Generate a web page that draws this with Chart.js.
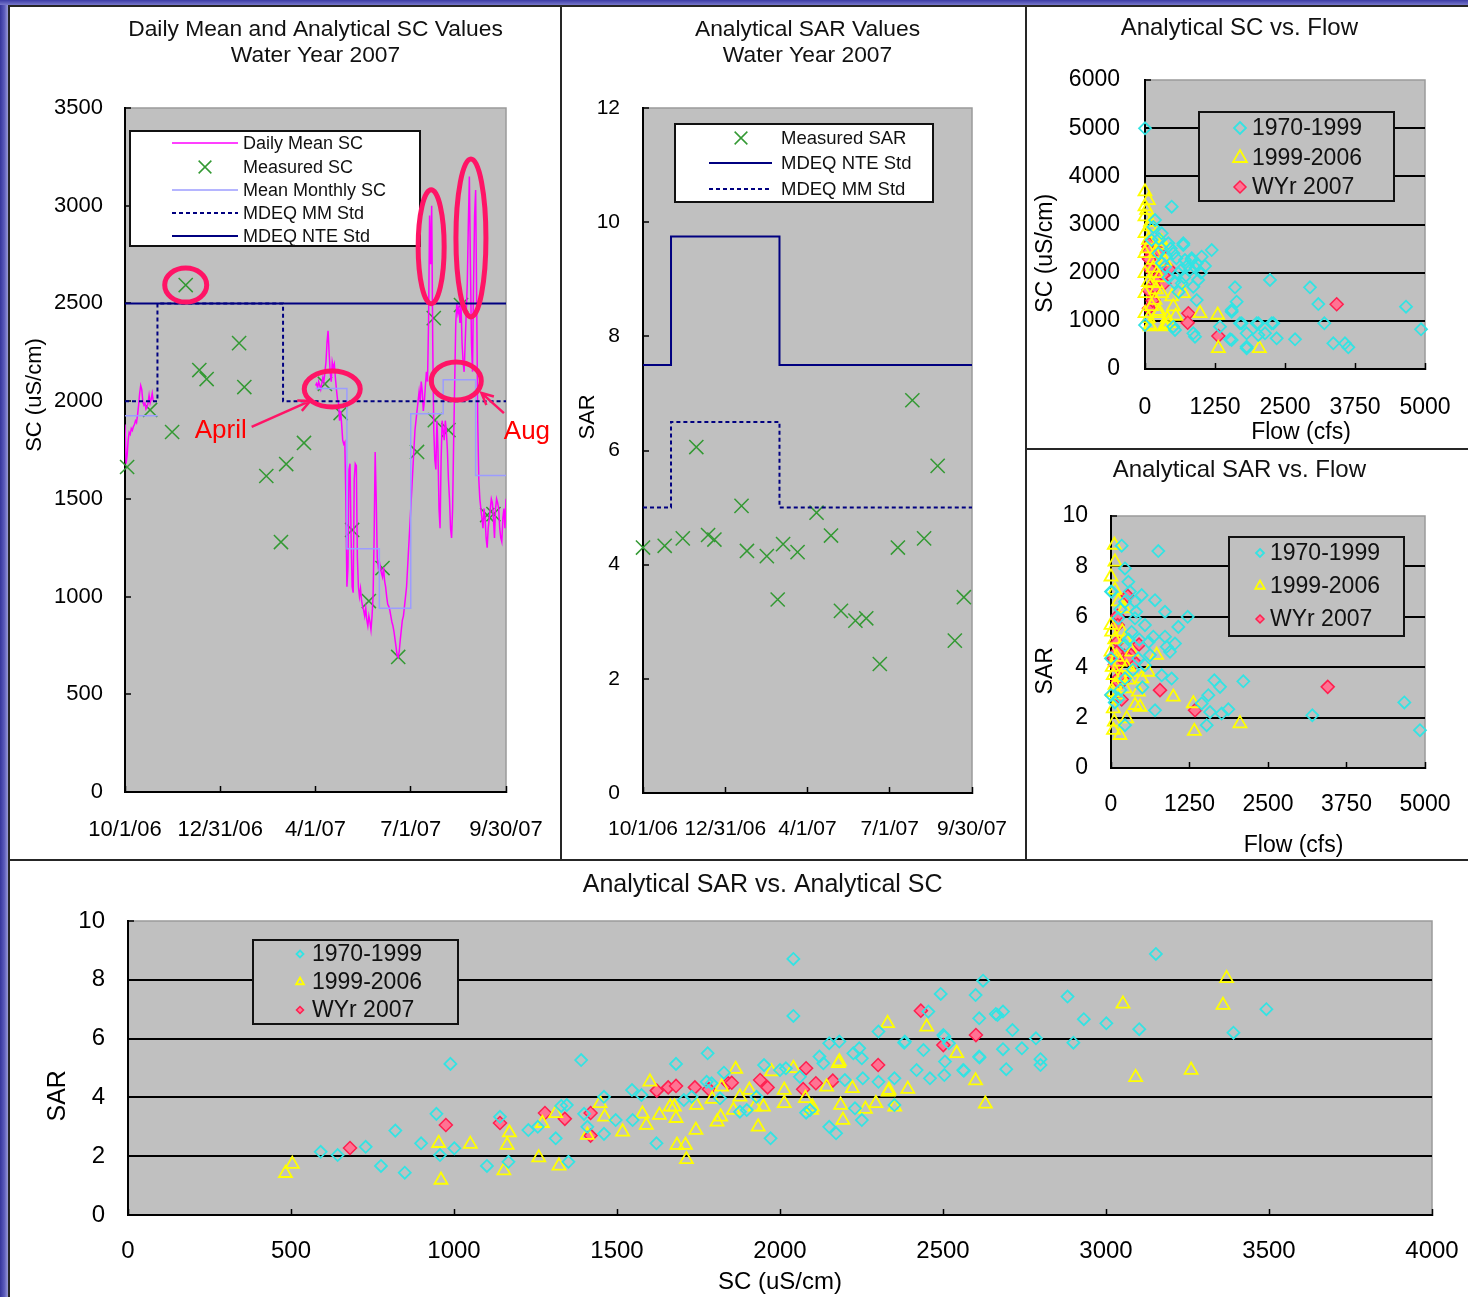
<!DOCTYPE html>
<html>
<head>
<meta charset="utf-8">
<title>Water Year 2007 SC and SAR</title>
<script src="https://cdn.jsdelivr.net/npm/chart.js@4.4.0/dist/chart.umd.min.js"></script>
<style>
  html, body { margin: 0; padding: 0; background: #fff; }
  #page { position: relative; width: 1468px; height: 1297px; overflow: hidden; background: #fff; }
  .strip-left { position: absolute; left: 0; top: 0; width: 8px; height: 1297px;
    background: linear-gradient(90deg, #34349a 0%, #5c5cbc 55%, #9a9ad8 100%); }
  .strip-top { position: absolute; left: 0; top: 0; width: 1468px; height: 5px;
    background: linear-gradient(180deg, #3c3ca6, #7878cc); }
  .rule { position: absolute; background: #262626; }
  canvas { position: absolute; }
</style>
</head>
<body>
<div id="page">
  <div class="strip-left"></div>
  <div class="strip-top"></div>
  <div class="rule" style="left:8px;top:5px;width:1460px;height:2px"></div>
  <div class="rule" style="left:8px;top:5px;width:2px;height:1292px"></div>
  <div class="rule" style="left:560px;top:5px;width:2px;height:856px"></div>
  <div class="rule" style="left:1025px;top:5px;width:2px;height:856px"></div>
  <div class="rule" style="left:1025px;top:448px;width:443px;height:2px"></div>
  <div class="rule" style="left:8px;top:859px;width:1460px;height:2px"></div>
  <canvas id="scTime" width="550" height="852" style="left:10px;top:7px"></canvas>
  <canvas id="sarTime" width="463" height="852" style="left:562px;top:7px"></canvas>
  <canvas id="scFlow" width="441" height="441" style="left:1027px;top:7px"></canvas>
  <canvas id="sarFlow" width="441" height="409" style="left:1027px;top:450px"></canvas>
  <canvas id="sarSc" width="1458" height="436" style="left:10px;top:861px"></canvas>
</div>
<script>
// ---------- Water year 2007 time axis (days after 10/1/06) ----------
const wyTickDays = [0, 91, 182, 273, 364];
const wyTickLabels = ['10/1/06', '12/31/06', '4/1/07', '7/1/07', '9/30/07'];

// Daily mean SC: October record, then April through September record
const OCT_START_DAY = 0;
const dailyMeanOct = [1880, 1680, 1720, 1800, 1840, 1830, 1860, 1850, 1870, 1880, 1900, 1890, 1930, 1980,
  2040, 2080, 2060, 2000, 1980, 1990, 1960, 1970, 1990, 2030, 1990, 2010, 2040, 2000];
const APR_START_DAY = 182;
const dailyMeanAprSep = [
  // April
  2080, 2090, 2070, 2100, 2080, 2060, 2090, 2120, 2100, 2150, 2200, 2300, 2360, 2250, 2150,
  2100, 2200, 2170, 2190, 2120, 2060, 2010, 1990, 1900, 1950, 1880, 1800, 1780, 1790, 1500,
  // May
  1050, 1150, 1650, 1680, 1300, 1050, 1020, 1600, 1680, 1670, 1200, 1050, 1000, 1040, 980,
  950, 930, 900, 940, 880, 850, 900, 870, 830, 900, 1000, 1300, 1740, 1500, 1200, 1150,
  // June
  1180, 1150, 1120, 1100, 1150, 1080, 1050, 1000, 960, 950, 930, 900, 870, 850, 820,
  780, 740, 700, 690, 720, 780, 830, 880, 900, 950, 1000, 1050, 1150, 1250, 1350,
  // July
  1450, 1550, 1650, 1750, 1850, 1900, 1950, 2000, 2050, 2000, 2100, 2050, 1950, 2000, 2080,
  2150, 2100, 2400, 2950, 2700, 3000, 2300, 1850, 1700, 1650, 1900, 1750, 1450, 1350, 1700, 1900,
  // August
  1850, 1800, 1900, 1850, 1750, 1600, 1500, 1350, 1300, 1450, 1800, 2100, 2400, 2500, 2450,
  2480, 2400, 2500, 2300, 2200, 2150, 2300, 2450, 2600, 2900, 3150, 2700, 2300, 2150, 2600, 2950,
  // September
  3080, 2500, 1900, 1600, 1500, 1450, 1400, 1350, 1450, 1400, 1300, 1250, 1350, 1400, 1450,
  1500, 1480, 1400, 1300, 1450, 1500, 1480, 1450, 1350, 1300, 1280, 1400, 1450, 1350, 1500];

// Mean monthly SC (Oct, Apr, May, Jun, Jul, Aug, Sep)
const monthStartDays = [0, 182, 212, 243, 273, 304, 335];
const monthEndDays = [31, 212, 243, 273, 304, 335, 364];
const monthlyMeanSC = [1925, 2065, 1245, 940, 1935, 2110, 1620];

// MDEQ standards (break days: 10/1, 11/1, 3/1, 9/30)
const stdBreakDays = [0, 31, 151, 364];
const nteStdSC = [2500, 2500, 2500, 2500];
const mmStdSC = [2000, 2500, 2000, 2000];
const nteStdSAR = [7.5, 9.75, 7.5, 7.5];
const mmStdSAR = [5.0, 6.5, 5.0, 5.0];

// Grab samples
const scSampleDays = [2, 24, 45, 58, 71, 78, 109, 114, 135, 149, 154, 171, 191, 206, 217, 233, 246, 261, 279, 295, 296, 309, 321, 346, 352];
const measuredSC = [1663, 1955, 1842, 2594, 2159, 2113, 2297, 2072, 1617, 1279, 1678, 1786, 2088, 1939, 1341, 977, 1146, 691, 1740, 2425, 1903, 1852, 2492, 1417, 1422];
const sarSampleDays = [0, 24, 44, 59, 72, 79, 109, 115, 137, 149, 155, 171, 192, 208, 219, 235, 247, 262, 282, 298, 311, 326, 345, 355];
const measuredSAR = [4.30, 4.33, 4.46, 6.06, 4.52, 4.44, 5.03, 4.24, 4.15, 3.39, 4.36, 4.22, 4.91, 4.51, 3.19, 3.02, 3.06, 2.26, 4.30, 6.88, 4.46, 5.73, 2.67, 3.43];

// Historical periods
const periodNames = ['1970-1999', '1999-2006', 'WYr 2007'];

// SC (uS/cm) vs flow (cfs)
const flowSC1970 = [[0,4997],[477,3370],[684,2609],[1191,2470],[834,2298],[1071,2138],[2232,1848],[1607,1696],[1637,1398],[2946,1696],
  [1548,1190],[1696,948],[1994,948],[2292,948],[1339,878],[1815,741],[2143,741],[2351,637],[2679,617],[1518,617],[1815,463],[863,741],
  [506,878],[0,913],[684,2574],[1012,2332],[3095,1349],[4661,1294],[4929,824],[3202,948],[3363,533],[3571,533],[3631,450],[2262,948],
  [2024,948],[1726,948],[2024,706],[1548,1225],[893,671],[536,810],[834,2263],[863,1709],[923,1432],[655,1779],[506,2402],[298,2817],
  [179,3093],[417,2609],[357,2124],[595,1987],[714,2263],[804,2055],[923,2194],[119,2678],[238,2402],[1815,429],[1548,602],[150,2950],
  [250,2700],[300,2200],[420,1900],[520,1800],[600,1600],[700,1900],[760,2150],[380,2350],[460,2500],[560,2300],[640,2050],[950,1850],
  [1000,2000],[900,2100]];
const flowSC1999 = [[0,3681],[0,3370],[0,3162],[0,2817],[0,2402],[0,1987],[0,1571],[0,1156],[89,913],[357,913],[298,2574],[208,1987],
  [298,1571],[477,1501],[684,1571],[506,1294],[982,1156],[1298,1121],[1310,429],[2042,429],[238,1156],[417,948],[179,1432],[89,2955],
  [60,2678],[149,2263],[119,1779],[298,2643],[357,2228],[89,878],[357,878],[60,3500],[30,3300],[100,3050],[40,2500],[150,2100],[60,1800],
  [200,1650],[120,1300],[250,1200],[60,1050],[400,1050],[550,1100],[180,2400],[250,1900]];
const flowSC2007 = [[60,2539],[71,2298],[89,2090],[256,2402],[417,2090],[179,1848],[345,1779],[60,1640],[149,1432],[71,1260],[774,1156],
  [762,961],[1310,685],[3423,1343],[77,2595],[77,2456],[256,2435],[77,2277],[89,2070],[434,2070],[208,1883],[327,1952],[179,1696],[137,1418]];

// SAR vs flow (cfs)
const flowSAR1970 = [[170,8.82],[753,8.61],[223,7.92],[276,7.39],[488,6.86],[701,6.66],[860,6.20],[382,6.60],[541,5.67],[674,5.21],
  [860,5.21],[1072,5.60],[1221,6.00],[887,4.81],[939,4.61],[807,3.68],[966,3.55],[701,2.29],[1645,3.48],[1736,3.22],[1550,2.89],
  [1444,2.56],[1577,2.22],[1762,2.16],[1868,2.33],[1524,1.70],[2107,3.44],[3206,2.09],[4671,2.60],[4920,1.50],[223,6.60],[117,5.94],
  [329,5.40],[223,4.87],[435,4.35],[541,4.08],[223,3.55],[117,2.76],[223,1.70],[0,4.35],[11,6.99],[382,5.94],[1019,4.94],[621,4.48],
  [300,7.0],[400,6.2],[150,6.3],[280,5.1],[450,5.1],[600,5.0],[350,3.9],[500,3.2],[150,3.1],[60,2.6],[0,7.0],[0,2.9]];
const flowSAR1999 = [[53,8.85],[64,8.18],[0,7.59],[64,7.06],[212,6.33],[0,5.67],[223,5.14],[0,4.61],[143,4.21],[329,3.81],[488,3.55],
  [37,3.68],[64,3.29],[382,2.49],[462,2.42],[37,2.36],[53,1.83],[143,1.30],[250,1.96],[727,4.48],[992,2.82],[1311,2.56],[1327,1.46],
  [2054,1.76],[594,3.81],[223,3.15],[329,4.61],[11,5.40],[117,6.60],[435,3.02],[20,4.0],[90,4.4],[160,3.6],[250,4.0],[30,3.0],
  [100,2.9],[60,5.1],[180,5.4],[280,3.5],[40,1.5]];
const flowSAR2007 = [[265,6.83],[106,6.04],[106,5.67],[106,5.01],[446,4.90],[106,4.54],[212,4.45],[318,4.48],[117,4.21],[382,4.19],
  [37,4.35],[106,3.44],[186,3.44],[170,2.72],[780,3.09],[1338,2.29],[3451,3.22],[150,4.40],[250,4.30],[60,4.10],[90,4.60],[200,3.50],
  [130,3.60],[280,4.35]];

// SAR vs SC (uS/cm)
const scSAR1970 = [[591,2.15],[643,2.04],[729,2.32],[776,1.67],[820,2.87],[849,1.44],[899,2.44],[946,3.44],[957,2.04],[989,5.14],
  [1001,2.27],[1101,1.67],[1141,3.34],[1167,1.81],[1228,2.89],[1257,3.00],[1312,2.61],[1329,3.71],[1346,3.74],[1351,1.81],[1390,5.27],
  [1399,3.44],[1409,3.00],[1460,4.02],[1460,2.76],[1496,3.23],[1546,4.25],[1548,3.23],[1575,4.08],[1621,2.44],[1681,5.14],[1705,3.91],
  [1729,4.02],[1775,4.53],[1778,5.50],[1790,4.48],[1816,3.97],[1828,4.84],[1877,3.51],[1898,3.57],[1928,4.02],[1951,5.10],[1971,2.61],
  [2000,4.93],[2018,4.99],[2041,6.77],[2041,8.71],[2061,4.70],[2080,3.48],[2092,3.57],[2121,5.39],[2133,5.16],[2151,5.84],[2151,3.00],
  [2172,2.78],[2182,5.90],[2199,4.59],[2225,5.50],[2230,3.63],[2243,5.67],[2251,5.33],[2251,3.23],[2254,4.65],[2302,6.24],[2302,4.53],
  [2351,4.65],[2351,3.74],[2381,5.86],[2383,5.90],[2419,4.93],[2440,5.61],[2455,6.92],[2460,4.65],[2493,7.52],[2501,6.12],[2504,6.07],
  [2504,4.76],[2506,5.22],[2518,5.84],[2562,4.93],[2564,4.91],[2600,7.48],[2611,5.39],[2611,6.69],[2612,5.36],[2623,7.97],[2662,6.84],
  [2667,6.80],[2684,6.92],[2684,5.64],[2694,4.96],[2713,6.29],[2742,5.67],[2785,6.01],[2799,5.30],[2799,5.10],[2882,7.43],[2900,5.86],
  [2932,6.66],[3001,6.52],[3102,6.32],[3153,8.88],[3391,6.20],[3492,7.00]];
const scSAR1999 = [[483,1.42],[504,1.73],[953,2.44],[960,1.19],[1050,2.41],[1153,1.51],[1163,2.38],[1170,2.80],[1260,1.95],[1271,3.12],
  [1312,3.46],[1322,1.67],[1409,2.72],[1448,3.80],[1462,3.34],[1517,2.83],[1578,3.44],[1590,3.06],[1601,4.53],[1630,3.40],[1663,3.68],
  [1676,3.68],[1681,3.29],[1684,2.38],[1710,2.38],[1713,1.89],[1742,2.89],[1744,3.74],[1792,3.94],[1807,3.17],[1818,3.34],[1821,4.36],
  [1857,3.57],[1864,4.96],[1877,4.02],[1906,4.25],[1923,3.68],[1933,3.00],[1949,3.68],[1974,4.88],[2013,4.25],[2013,3.80],[2041,4.99],
  [2078,3.97],[2097,3.57],[2099,3.68],[2143,4.36],[2179,5.16],[2182,5.22],[2186,3.74],[2193,3.23],[2222,4.31],[2262,3.60],[2294,3.80],
  [2330,6.52],[2332,4.19],[2334,4.25],[2352,3.68],[2392,4.28],[2450,6.40],[2542,5.50],[2600,4.57],[2630,3.78],[3052,7.18],[3091,4.68],
  [3261,4.93],[3359,7.14],[3370,8.05]];
const scSAR2007 = [[681,2.28],[975,3.06],[1141,3.13],[1279,3.47],[1340,3.27],[1419,3.47],[1419,2.70],[1622,4.23],[1657,4.34],[1681,4.39],
  [1739,4.34],[1782,4.28],[1841,4.48],[1852,4.50],[1939,4.59],[1962,4.34],[2071,4.28],[2080,4.99],[2110,4.48],[2162,4.57],[2301,5.10],
  [2432,6.95],[2501,5.78],[2601,6.12]];

// ---------- helpers ----------
const FONT = "'Liberation Sans', Arial, Helvetica, sans-serif";
Chart.defaults.font.family = FONT;
Chart.defaults.color = '#000';

const toXY = pts => pts.map(p => ({ x: p[0], y: p[1] }));
const byDay = (days, vals) => days.map((d, i) => ({ x: d, y: vals[i] }));
const fromStart = (start, vals) => vals.map((v, i) => ({ x: start + i, y: v }));

function monthlySteps() {
  const pts = [];
  monthStartDays.forEach((s, i) => {
    if (i > 0 && s !== monthEndDays[i - 1]) pts.push({ x: (monthEndDays[i - 1] + s) / 2, y: null });
    pts.push({ x: s, y: monthlyMeanSC[i] }, { x: monthEndDays[i], y: monthlyMeanSC[i] });
  });
  return pts;
}

function drawMarker(ctx, style, x, y, r) {
  ctx.beginPath();
  if (style === 'rectRot') {
    ctx.moveTo(x, y - r); ctx.lineTo(x + r, y); ctx.lineTo(x, y + r); ctx.lineTo(x - r, y); ctx.closePath();
  } else if (style === 'triangle') {
    for (let k = 0; k < 3; k++) {
      const a = k * 2 * Math.PI / 3;
      const px = x + Math.sin(a) * r, py = y - Math.cos(a) * r;
      k ? ctx.lineTo(px, py) : ctx.moveTo(px, py);
    }
    ctx.closePath();
  } else if (style === 'crossRot') {
    const d = r * Math.SQRT1_2;
    ctx.moveTo(x - d, y - d); ctx.lineTo(x + d, y + d);
    ctx.moveTo(x + d, y - d); ctx.lineTo(x - d, y + d);
  }
}

// gray plotting area with a light frame on the open sides
const plotFrame = {
  id: 'plotFrame',
  beforeDraw(chart) {
    const { ctx, chartArea: a } = chart;
    ctx.save();
    ctx.fillStyle = '#c0c0c0';
    ctx.fillRect(a.left, a.top, a.right - a.left, a.bottom - a.top);
    ctx.strokeStyle = '#9a9a9a';
    ctx.lineWidth = 1.5;
    ctx.beginPath();
    ctx.moveTo(a.left, a.top); ctx.lineTo(a.right, a.top); ctx.lineTo(a.right, a.bottom);
    ctx.stroke();
    ctx.restore();
  }
};

// boxed legend placed inside the plotting area
const boxLegend = {
  id: 'boxLegend',
  afterDatasetsDraw(chart, args, o) {
    if (!o || !o.box) return;
    const ctx = chart.ctx, b = o.box;
    ctx.save();
    ctx.fillStyle = o.fill;
    ctx.fillRect(b[0], b[1], b[2], b[3]);
    ctx.strokeStyle = '#111';
    ctx.lineWidth = 2;
    ctx.strokeRect(b[0], b[1], b[2], b[3]);
    ctx.font = o.fontSize + 'px ' + FONT;
    ctx.textBaseline = 'middle';
    ctx.textAlign = 'left';
    o.order.forEach((di, i) => {
      const ds = chart.data.datasets[di];
      const y = o.rows[i];
      ctx.save();
      if (ds.showLine === false) {
        const r = o.markerRadius ? o.markerRadius[i] : ds.pointRadius;
        drawMarker(ctx, ds.pointStyle, o.markerX, y, r);
        if (ds.pointBackgroundColor && ds.pointBackgroundColor !== 'transparent') {
          ctx.fillStyle = ds.pointBackgroundColor; ctx.fill();
        }
        ctx.strokeStyle = ds.pointBorderColor;
        ctx.lineWidth = ds.pointBorderWidth;
        ctx.stroke();
      } else {
        ctx.strokeStyle = ds.borderColor;
        ctx.lineWidth = ds.borderWidth;
        ctx.setLineDash(ds.borderDash || []);
        ctx.beginPath();
        ctx.moveTo(o.sample[0], y); ctx.lineTo(o.sample[1], y);
        ctx.stroke();
      }
      ctx.restore();
      ctx.fillStyle = '#111';
      ctx.fillText(ds.label, o.textX, y + 1);
    });
    ctx.restore();
  }
};

// circled features, labels and arrows given in data units
const callouts = {
  id: 'callouts',
  afterDatasetsDraw(chart, args, o) {
    if (!o || !o.rings) return;
    const { ctx, scales: { x, y } } = chart;
    const px = v => x.getPixelForValue(v), py = v => y.getPixelForValue(v);
    ctx.save();
    ctx.strokeStyle = o.ringColor;
    ctx.lineWidth = 5;
    o.rings.forEach(r => {
      ctx.beginPath();
      ctx.ellipse(px(r.x), py(r.y), r.rx, r.ry, 0, 0, 2 * Math.PI);
      ctx.stroke();
    });
    ctx.lineWidth = 2.5;
    o.arrows.forEach(a => {
      const x1 = px(a.from[0]), y1 = py(a.from[1]), x2 = px(a.to[0]), y2 = py(a.to[1]);
      const ang = Math.atan2(y2 - y1, x2 - x1);
      ctx.beginPath();
      ctx.moveTo(x1, y1); ctx.lineTo(x2, y2);
      ctx.moveTo(x2 - 13 * Math.cos(ang - 0.45), y2 - 13 * Math.sin(ang - 0.45));
      ctx.lineTo(x2, y2);
      ctx.lineTo(x2 - 13 * Math.cos(ang + 0.45), y2 - 13 * Math.sin(ang + 0.45));
      ctx.stroke();
    });
    ctx.fillStyle = o.textColor;
    ctx.font = '26px ' + FONT;
    ctx.textAlign = 'center';
    ctx.textBaseline = 'middle';
    o.labels.forEach(t => ctx.fillText(t.text, px(t.x), py(t.y)));
    ctx.restore();
  }
};

Chart.register(plotFrame, boxLegend, callouts);

const plainNumber = v => String(v);

function yAxis(o) {
  return {
    type: 'linear', position: 'left', min: o.min, max: o.max,
    ticks: { stepSize: o.step, padding: o.pad, font: { size: o.fs }, color: '#000', callback: plainNumber },
    grid: {
      drawOnChartArea: !!o.grid, lineWidth: 2, tickLength: -6, tickWidth: 1.5, tickColor: '#000',
      color: c => (c.tick && (c.tick.value === o.min || c.tick.value === o.max)) ? 'rgba(0,0,0,0)' : '#000'
    },
    border: { display: true, color: '#000', width: 2 },
    title: { display: true, text: o.title, font: { size: o.tfs }, color: '#000', padding: { top: o.tpad, bottom: 0 } },
    afterFit: s => { s.width = o.width; s.paddingTop = 0; s.paddingBottom = 0; }
  };
}

function xAxis(o) {
  const ax = {
    type: 'linear', position: 'bottom', min: o.min, max: o.max,
    ticks: { autoSkip: false, maxRotation: 0, minRotation: 0, padding: o.pad, font: { size: o.fs }, color: '#000', callback: plainNumber },
    grid: { drawOnChartArea: false, tickLength: -6, tickWidth: 1.5, tickColor: '#000' },
    border: { display: true, color: '#000', width: 2 },
    title: o.title ? { display: true, text: o.title, font: { size: o.tfs }, color: '#000', padding: { top: 0, bottom: o.tpad } } : { display: false },
    afterFit: s => { s.height = o.height; s.paddingLeft = 0; s.paddingRight = 0; }
  };
  if (o.tickValues) {
    ax.afterBuildTicks = s => { s.ticks = o.tickValues.map(v => ({ value: v })); };
    ax.ticks.callback = (v, i) => o.tickLabels[i];
  } else {
    ax.ticks.stepSize = o.step;
  }
  return ax;
}

function chartTitle(text, size, lh, pt, pb, full) {
  return { display: true, text, fullSize: full, color: '#111',
    font: { size, lineHeight: lh, weight: 'normal' }, padding: { top: pt, bottom: pb } };
}

const base = { responsive: false, animation: false, devicePixelRatio: 1, events: [] };

const NAVY = '#000080', MAGENTA = '#ff00ff', LAVENDER = '#9c9cff', GREEN = '#339933';
const CYAN = '#33e3e3', YELLOW = '#ffff00', PINK = '#ff7393', RED = '#ff1f4f';

// ---------- Daily Mean and Analytical SC Values ----------
new Chart(document.getElementById('scTime'), {
  type: 'line',
  data: {
    datasets: [
      { label: 'MDEQ NTE Std', data: byDay(stdBreakDays, nteStdSC), stepped: true, borderColor: NAVY, borderWidth: 2, pointRadius: 0 },
      { label: 'MDEQ MM Std', data: byDay(stdBreakDays, mmStdSC), stepped: true, borderColor: NAVY, borderWidth: 2, borderDash: [4, 3], pointRadius: 0 },
      { label: 'Mean Monthly SC', data: monthlySteps(), borderColor: LAVENDER, borderWidth: 1.5, pointRadius: 0, spanGaps: false },
      { label: 'Daily Mean SC', data: fromStart(OCT_START_DAY, dailyMeanOct).concat([{ x: 100, y: null }], fromStart(APR_START_DAY, dailyMeanAprSep)),
        borderColor: MAGENTA, borderWidth: 1.5, pointRadius: 0, spanGaps: false },
      { label: 'Measured SC', data: byDay(scSampleDays, measuredSC), showLine: false, pointStyle: 'crossRot', pointRadius: 10,
        pointBorderColor: GREEN, pointBackgroundColor: 'transparent', pointBorderWidth: 1.5, borderColor: GREEN, clip: false }
    ]
  },
  options: Object.assign({}, base, {
    layout: { padding: { left: 0, right: 54, top: 0, bottom: 0 } },
    scales: {
      x: xAxis({ min: 0, max: 364, tickValues: wyTickDays, tickLabels: wyTickLabels, pad: 31, fs: 22, height: 67 }),
      y: yAxis({ min: 0, max: 3500, step: 500, pad: 28, fs: 22, width: 115, title: '                  SC (uS/cm)', tfs: 22, tpad: 12 })
    },
    plugins: {
      legend: { display: false }, tooltip: { enabled: false },
      title: chartTitle(['Daily Mean and Analytical SC Values', 'Water Year 2007'], 22.8, 26 / 22.8, 10, 39, false),
      boxLegend: { box: [120, 124, 290, 115], fill: '#fff', fontSize: 18, order: [3, 4, 2, 1, 0],
        rows: [136, 160, 183, 206, 229], sample: [162, 228], markerX: 195, textX: 233, markerRadius: [0, 9, 0, 0, 0] },
      callouts: {
        ringColor: '#ff1466', textColor: '#ff0000',
        rings: [ { x: 58, y: 2594, rx: 21, ry: 17 }, { x: 292.5, y: 2790, rx: 13, ry: 57 }, { x: 330.5, y: 2835, rx: 15, ry: 79 },
                 { x: 198, y: 2062, rx: 28, ry: 18 }, { x: 316.5, y: 2103, rx: 25, ry: 19 } ],
        arrows: [ { from: [121, 1868], to: [177, 2001] }, { from: [362, 1939], to: [340.5, 2042] } ],
        labels: [ { text: 'April', x: 91.5, y: 1847 }, { text: 'Aug', x: 384, y: 1842 } ]
      }
    }
  })
});

// ---------- Analytical SAR Values ----------
new Chart(document.getElementById('sarTime'), {
  type: 'line',
  data: {
    datasets: [
      { label: 'MDEQ NTE Std', data: byDay(stdBreakDays, nteStdSAR), stepped: true, borderColor: NAVY, borderWidth: 2, pointRadius: 0 },
      { label: 'MDEQ MM Std', data: byDay(stdBreakDays, mmStdSAR), stepped: true, borderColor: NAVY, borderWidth: 2, borderDash: [4, 3], pointRadius: 0 },
      { label: 'Measured SAR', data: byDay(sarSampleDays, measuredSAR), showLine: false, pointStyle: 'crossRot', pointRadius: 10,
        pointBorderColor: GREEN, pointBackgroundColor: 'transparent', pointBorderWidth: 1.5, borderColor: GREEN, clip: false }
    ]
  },
  options: Object.assign({}, base, {
    layout: { padding: { left: 0, right: 53, top: 0, bottom: 0 } },
    scales: {
      x: xAxis({ min: 0, max: 364, tickValues: wyTickDays, tickLabels: wyTickLabels, pad: 30, fs: 21, height: 66 }),
      y: yAxis({ min: 0, max: 12, step: 2, pad: 29, fs: 21, width: 81, title: '           SAR', tfs: 22, tpad: 13 })
    },
    plugins: {
      legend: { display: false }, tooltip: { enabled: false },
      title: chartTitle(['Analytical SAR Values', 'Water Year 2007'], 22.8, 26 / 22.8, 10, 39, false),
      boxLegend: { box: [113, 117, 258, 78], fill: '#fff', fontSize: 18.5, order: [2, 0, 1],
        rows: [131, 156, 182], sample: [147, 210], markerX: 179, textX: 219, markerRadius: [9, 0, 0] }
    }
  })
});

function scatterSets(s1970, s1999, s2007, rDiamond, rTri, rRed) {
  return [
    { label: periodNames[0], data: toXY(s1970), showLine: false, pointStyle: 'rectRot', pointRadius: rDiamond,
      pointBorderColor: CYAN, pointBackgroundColor: 'transparent', pointBorderWidth: 1.8, clip: false },
    { label: periodNames[1], data: toXY(s1999), showLine: false, pointStyle: 'triangle', pointRadius: rTri,
      pointBorderColor: YELLOW, pointBackgroundColor: 'transparent', pointBorderWidth: 1.8, clip: false },
    { label: periodNames[2], data: toXY(s2007), showLine: false, pointStyle: 'rectRot', pointRadius: rRed,
      pointBorderColor: RED, pointBackgroundColor: PINK, pointBorderWidth: 1.5, clip: false }
  ];
}

// ---------- Analytical SC vs. Flow ----------
new Chart(document.getElementById('scFlow'), {
  type: 'scatter',
  data: { datasets: scatterSets(flowSC1970, flowSC1999, flowSC2007, 6, 7.5, 6.5) },
  options: Object.assign({}, base, {
    layout: { padding: { left: 0, right: 43, top: 0, bottom: 0 } },
    scales: {
      x: xAxis({ min: 0, max: 5000, step: 1250, pad: 31, fs: 23, height: 79, title: '     Flow (cfs)', tfs: 23, tpad: 2 }),
      y: yAxis({ min: 0, max: 6000, step: 1000, pad: 31, fs: 23, width: 118, grid: true, title: 'SC (uS/cm)         ', tfs: 23, tpad: 5 })
    },
    plugins: {
      legend: { display: false }, tooltip: { enabled: false },
      title: chartTitle('    Analytical SC vs. Flow', 24, 1.2, 6.6, 37.6, true),
      boxLegend: { box: [172, 105, 195, 89], fill: '#c0c0c0', fontSize: 23, order: [0, 1, 2],
        rows: [121, 151, 180], markerX: 213, textX: 225, markerRadius: [6, 8, 6] }
    }
  })
});

// ---------- Analytical SAR vs. Flow ----------
new Chart(document.getElementById('sarFlow'), {
  type: 'scatter',
  data: { datasets: scatterSets(flowSAR1970, flowSAR1999, flowSAR2007, 6, 7.5, 6.5) },
  options: Object.assign({}, base, {
    layout: { padding: { left: 0, right: 43, top: 0, bottom: 0 } },
    scales: {
      x: xAxis({ min: 0, max: 5000, step: 1250, pad: 29, fs: 23, height: 91, title: '        Flow (cfs)', tfs: 23, tpad: 0 }),
      y: yAxis({ min: 0, max: 10, step: 2, pad: 29, fs: 23, width: 84, grid: true, title: 'SAR         ', tfs: 23, tpad: 5 })
    },
    plugins: {
      legend: { display: false }, tooltip: { enabled: false },
      title: chartTitle('    Analytical SAR vs. Flow', 24, 1.2, 5.6, 31.6, true),
      boxLegend: { box: [202, 87, 175, 99], fill: '#c0c0c0', fontSize: 23, order: [0, 1, 2],
        rows: [103, 136, 169], markerX: 233, textX: 243, markerRadius: [4, 5.5, 4] }
    }
  })
});

// ---------- Analytical SAR vs. Analytical SC ----------
new Chart(document.getElementById('sarSc'), {
  type: 'scatter',
  data: { datasets: scatterSets(scSAR1970, scSAR1999, scSAR2007, 6, 7.5, 6.5) },
  options: Object.assign({}, base, {
    layout: { padding: { left: 0, right: 36, top: 0, bottom: 0 } },
    scales: {
      x: xAxis({ min: 0, max: 4000, step: 500, pad: 28, fs: 24, height: 82, title: 'SC (uS/cm)', tfs: 24, tpad: 0 }),
      y: yAxis({ min: 0, max: 10, step: 2, pad: 29, fs: 24, width: 118, grid: true, title: 'SAR        ', tfs: 25, tpad: 33 })
    },
    plugins: {
      legend: { display: false }, tooltip: { enabled: false },
      title: chartTitle('Analytical SAR vs. Analytical SC     ', 25, 1.2, 9, 21, false),
      boxLegend: { box: [243, 79, 205, 84], fill: '#c0c0c0', fontSize: 23, order: [0, 1, 2],
        rows: [93, 121, 149], markerX: 290, textX: 302, markerRadius: [3.5, 4.5, 3.5] }
    }
  })
});
</script>
</body>
</html>
